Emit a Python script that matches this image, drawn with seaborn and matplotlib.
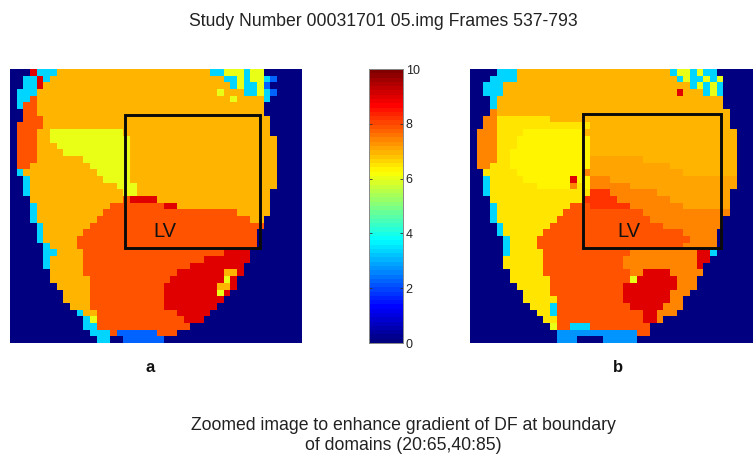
import re
import numpy as np
import matplotlib
matplotlib.use("Agg")
import matplotlib.pyplot as plt
from matplotlib.colors import LinearSegmentedColormap
from matplotlib.patches import Rectangle
import seaborn as sns

plt.rcParams['font.family'] = ['Liberation Sans', 'DejaVu Sans']

TITLE = "Study Number 00031701 05.img Frames 537-793"
CAPTION = "Zoomed image to enhance gradient of DF at boundary\nof domains (20:65,40:85)"
PANELS = ["a", "b"]
CBAR_TICKS = [0, 2, 4, 6, 8, 10]

# Dominant frequency level for each map letter, read against the colour bar
LEVELS = {'.': 0.0, 'b': 2.3, 'd': 2.8, 'c': 3.3, 'y': 6.0, 'Y': 6.3, 'p': 6.55,
          'o': 6.9, 'q': 7.15, 's': 7.45, 'r': 7.9, 'h': 8.2, 'R': 9.0}

# Run-length rows, top to bottom
ROWS_A = [
 "3. R 3c 23o 2c 3y c 2y", "2. 2c R c 26o 2c y c 2y c b", "2. 2c R 28o c y c c y b",
 "1. 3c 27o y 3o 2c y c b", "1. 2c r 29o y 4o c", "1. c 2r 34o", "2. 2r 34o", "2. 3r 34o",
 "1. 4r 34o", "1. 3r 2o 11y 22o", "1. 3r 2o 12y 22o", "1. 3r 3o 11y 22o", "1. 3r 4o 10y 22o",
 "1. 3r 7o 7y 22o", "1. 2r 9o 6y 22o", "1. c 11o 5y 22o", "2. c 11o 4y 22o", "2. c 13o 3y 21o",
 "2. c 14o 2y 20o", "3. 14o r 4R 17o", "3. c 11o 8r 2R 14o", "3. c 10o 20r 5o", "3. c 9o 23r 2o",
 "4. c 7o 26r", "4. c 6o 26r", "4. c 5o 27r", "5. c 4o 27r", "5. 2c 4o 21r 4R", "5. c 5o 18r 7R",
 "5. c 5o 16r 8R", "6. 5o 14r 7R 2o R", "6. 6o 12r 8R y R", "7. 5o 11r 8R 2o R", "8. 4o 11r 8R y R",
 "8. 4o 11r 9R", "9. 3o 11r 8R", "10. c 2o 12r 5R", "11. c y 13r 3R", "11. 2c 14r",
 "12. 3c r 6b 3r", "13. 2c 2. 6b",
]

# Run-length rows, top to bottom
ROWS_B = [
 "4. 3c 23o c 2y c y 2c", "3. 4c 24o c y 2c y c y", "2. 3c 28o c y c y c", "2. 3c 26o R 3o c y c",
 "3. c 34o", "3. c 34o", "3. s 35o", "2. 2s 8p 27o", "2. 2s 14p 21o", "1. 3s 4p 9Y 23o",
 "1. 3s 3p 11Y 22o", "1. 3s 3p 11Y 22o", "1. 3s 2p 12Y 22o", "1. 3s 2p 12Y 8q 14o",
 "1. 2s 3p 12Y 12q 10o", "2. 5p 10Y s 14q 8o", "2. c 5p 7Y R 2Y 3s 19q", "2. c 7p 5Y s p Y s 5s 16q",
 "2. c 15p 3h 7s 11q", "3. 14p 5h 8s 9q", "3. c 11p 3r 6h 8s 7q", "3. c 10p 12r 13s", "3. c 9p 14r 11s",
 "4. c 7p 17r 9s", "4. c 6p 21r 5s", "5. c 4p 23r 4s", "5. c 4p 22r 5s", "5. c 5p 13r 10s 2R c",
 "5. 6p 12r 11s 2R", "5. 6p 12r 11s R", "6. 5p 13r 2s 4R 5s", "6. 6p 12r y 6R 3s", "7. 5p 11r 8R 3s",
 "8. 4p 11r 7R 3s", "8. 5p 10r 7R 2s", "9. 3p c 11r 5R 3s", "10. 2p c 13r 2R 3s", "11. 2p 13r 2R s",
 "12. y 2r 3c 9r", "13. 12d 2r", "13. 3d 4. 5d",
]


def decode(rows, ncols):
    grid = []
    for row in rows:
        cells = []
        for count, code in re.findall(r"(\d*)(\S)", row):
            cells += [LEVELS[code]] * int(count or 1)
        cells += [0.0] * (ncols - len(cells))
        grid.append(cells[:ncols])
    return np.array(grid)


jet = LinearSegmentedColormap.from_list(
    "matlab_jet",
    [(0, (0, 0, .5)), (.125, (0, 0, 1)), (.375, (0, 1, 1)),
     (.625, (1, 1, 0)), (.875, (1, 0, 0)), (1, (.5, 0, 0))], N=64)

W, H = 753, 455
fig = plt.figure(figsize=(W / 100, H / 100), dpi=100)


def axes_px(x0, y0, x1, y1):
    return fig.add_axes([x0 / W, 1 - y1 / H, (x1 - x0) / W, (y1 - y0) / H])


ax_a = axes_px(10, 69, 302, 343)
ax_b = axes_px(470, 69, 753, 343)
cax = axes_px(369, 69, 403, 343)

sns.heatmap(decode(ROWS_A, 44), ax=ax_a, cmap=jet, vmin=0, vmax=10,
            xticklabels=False, yticklabels=False, cbar_ax=cax)
sns.heatmap(decode(ROWS_B, 43), ax=ax_b, cmap=jet, vmin=0, vmax=10,
            xticklabels=False, yticklabels=False, cbar=False)
ax_a.set_xlim(0, 43.75)
ax_b.set_xlim(0, 42.45)

cax.yaxis.set_ticks(CBAR_TICKS)
cax.tick_params(axis='y', direction='in', length=2.5, width=0.6, color='#333333',
                labelsize=9, pad=2, right=True, left=True, labelcolor='#222222')
for s in cax.spines.values():
    s.set_visible(True)
    s.set_color('#888888')
    s.set_linewidth(0.6)

# ROI boxes and LV labels
for (x0, y0, x1, y1), (lx, ly) in [((125, 115, 259.5, 248), (165, 232)),
                                    ((582.5, 113.5, 721, 248), (629, 232))]:
    fig.add_artist(Rectangle((x0 / W, 1 - y1 / H), (x1 - x0) / W, (y1 - y0) / H,
                             transform=fig.transFigure, fill=False,
                             edgecolor='#0a0a0a', linewidth=2.1))
    fig.text(lx / W, 1 - ly / H, "LV", ha='center', va='center', fontsize=14.5, color='#111111')

fig.text(383.5 / W, 1 - 21 / H, TITLE, ha='center', va='center', fontsize=12.7, color='#222222')
fig.text(150 / W, 1 - 368 / H, PANELS[0], ha='center', va='center', fontsize=12, fontweight='bold', color='#111111')
fig.text(618 / W, 1 - 368 / H, PANELS[1], ha='center', va='center', fontsize=12, fontweight='bold', color='#111111')
fig.text(403.5 / W, 1 - 435.5 / H, CAPTION, ha='center', va='center', fontsize=12.7,
         color='#222222', linespacing=1.2)

fig.savefig("out.png", dpi=100)
